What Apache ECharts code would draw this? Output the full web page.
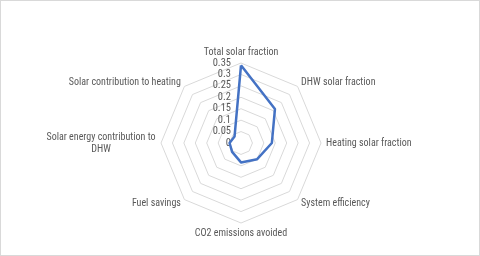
<!DOCTYPE html>
<html><head><meta charset="utf-8">
<script src="https://cdn.jsdelivr.net/npm/echarts@6/dist/echarts.min.js"></script>
<style>html,body{margin:0;padding:0;background:#fff}#c{width:478px;height:254px;border:1px solid #d9d9d9}</style>
</head><body><div id="c"></div>
<script>
// clockwise order from top, as in the reference
const categories = ["Total solar fraction","DHW solar fraction","Heating solar fraction","System efficiency","CO2 emissions avoided","Fuel savings","Solar energy contribution to\nDHW","Solar contribution to heating"];
const values = [0.34, 0.21, 0.135, 0.10, 0.085, 0.055, 0.05, 0.04];
const axisMax = 0.35;
const splitCount = 7;

// ECharts radar runs counter-clockwise: reverse all but the first
const ordCats = [categories[0]].concat(categories.slice(1).reverse());
const ordVals = [values[0]].concat(values.slice(1).reverse());
const font = "'Liberation Sans Narrow','Roboto Condensed','Liberation Sans',sans-serif";

const chart = echarts.init(document.getElementById('c'));
chart.setOption({
  animation:false,
  radar:{
    center:[240,142], radius:80, startAngle:90, shape:'polygon', splitNumber:splitCount,
    axisName:{color:'#595959', fontSize:10, fontFamily:font,
      formatter:n=>n.indexOf('\n')>=0 ? n.split('\n').map(s=>'{c|'+s+'}').join('\n') : n,
      rich:{c:{width:110,align:'center',color:'#595959',fontSize:10,fontFamily:font,lineHeight:12}}},
    nameGap:5,
    indicator: ordCats.map((n,i)=>i===0?{name:n,min:0,max:axisMax,axisLabel:{show:true}}:{name:n,min:0,max:axisMax}),
    axisLine:{show:false},
    splitLine:{lineStyle:{color:'#d9d9d9',width:1}},
    splitArea:{show:false},
    axisTick:{show:false},
    axisLabel:{show:false,color:'#595959',fontSize:10.5,fontFamily:font,margin:10,formatter:v=>String(+v.toFixed(2))}
  },
  series:[{type:'radar',symbol:'none',lineStyle:{color:'#4472C4',width:2.5},data:[{value:ordVals}]}]
});
</script></body></html>
